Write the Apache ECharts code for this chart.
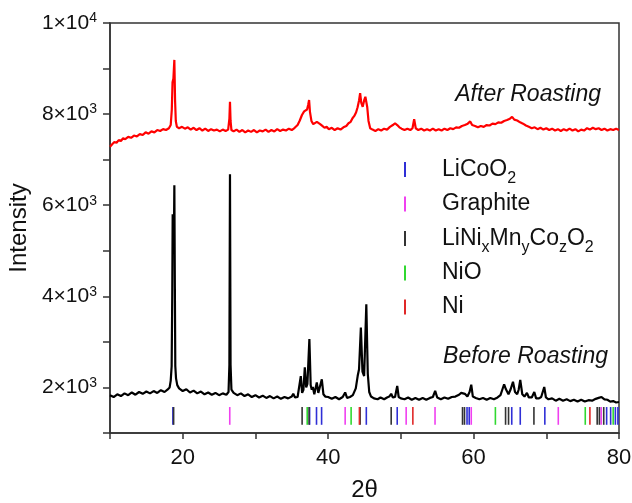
<!DOCTYPE html>
<html>
<head>
<meta charset="utf-8">
<script src="https://cdn.jsdelivr.net/npm/echarts@6/dist/echarts.min.js"></script>
<style>
  html, body { margin: 0; padding: 0; background: #fff; }
  #chart { width: 632px; height: 503px; }
</style>
</head>
<body>
<div id="chart"></div>
<script>
// XRD pattern before roasting: [2theta, intensity]
const beforeRoasting = [
  [10.0, 1830], [10.5, 1790], [11.0, 1850], [11.5, 1810], [12.0, 1870], [12.5, 1830], [13.0, 1890], [13.5, 1840],
  [14.0, 1900], [14.5, 1860], [15.0, 1910], [15.5, 1870], [16.0, 1920], [16.5, 1880], [17.0, 1940], [17.5, 1900],
  [17.9, 1950], [18.2, 2000], [18.35, 2150], [18.48, 2470], [18.56, 4000], [18.62, 5800], [18.7, 5300], [18.78, 5100],
  [18.85, 6440], [18.92, 4200], [18.98, 2470], [19.08, 2200], [19.25, 2050], [19.5, 1980], [20.0, 1920], [20.5, 1960],
  [21.0, 1890], [21.5, 1930], [22.0, 1870], [22.5, 1910], [23.0, 1850], [23.5, 1890], [24.0, 1840], [24.5, 1880],
  [25.0, 1830], [25.5, 1870], [26.0, 1840], [26.3, 1900], [26.42, 2500], [26.5, 6680], [26.58, 2500], [26.7, 1950],
  [27.0, 1880], [27.5, 1830], [28.0, 1870], [28.5, 1810], [29.0, 1850], [29.5, 1790], [30.0, 1830], [30.5, 1780],
  [31.0, 1820], [31.5, 1770], [32.0, 1810], [32.5, 1760], [33.0, 1800], [33.5, 1750], [34.0, 1790], [34.5, 1760],
  [35.0, 1800], [35.2, 1860], [35.45, 1780], [35.8, 1790], [36.05, 1800], [36.24, 2250], [36.42, 1880], [36.6, 1950],
  [36.79, 2440], [36.98, 2000], [37.15, 2080], [37.42, 3060], [37.6, 2050], [37.75, 1950], [37.89, 2010], [38.1, 1850],
  [38.25, 1880], [38.44, 2110], [38.65, 1880], [38.85, 1870], [39.13, 2180], [39.35, 1850], [39.6, 1800], [40.0, 1790],
  [40.5, 1750], [41.0, 1790], [41.5, 1740], [42.0, 1790], [42.34, 1890], [42.6, 1770], [43.0, 1790], [43.4, 1830],
  [43.8, 1980], [44.06, 2250], [44.25, 2400], [44.5, 3316], [44.72, 2350], [44.95, 2250], [45.25, 3827], [45.45, 2300],
  [45.65, 1900], [45.9, 1800], [46.3, 1760], [46.8, 1740], [47.2, 1780], [47.7, 1740], [48.1, 1780], [48.4, 1800],
  [48.67, 1860], [48.9, 1780], [49.2, 1790], [49.5, 2035], [49.7, 1790], [50.0, 1760], [50.5, 1740], [51.0, 1780],
  [51.5, 1730], [52.0, 1770], [52.5, 1730], [53.0, 1770], [53.5, 1730], [54.0, 1770], [54.4, 1790], [54.72, 1925],
  [55.0, 1780], [55.5, 1740], [56.0, 1780], [56.5, 1750], [57.0, 1790], [57.5, 1800], [58.0, 1840], [58.3, 1880],
  [58.5, 1915], [58.8, 1860], [59.15, 1800], [59.45, 1900], [59.68, 2060], [59.9, 1800], [60.3, 1770], [60.8, 1740],
  [61.3, 1770], [61.8, 1730], [62.3, 1770], [62.8, 1740], [63.3, 1780], [63.7, 1830], [63.95, 1950], [64.2, 2070],
  [64.45, 1960], [64.8, 1850], [65.1, 1960], [65.42, 2125], [65.7, 1900], [66.0, 1850], [66.2, 1950], [66.42, 2165],
  [66.7, 1850], [67.0, 1800], [67.34, 1880], [67.6, 1780], [68.0, 1780], [68.35, 1900], [68.6, 1760], [69.0, 1760],
  [69.3, 1790], [69.72, 2010], [69.95, 1780], [70.3, 1740], [70.8, 1760], [71.3, 1710], [71.8, 1750], [72.3, 1710],
  [72.8, 1740], [73.3, 1700], [73.8, 1730], [74.3, 1690], [74.8, 1730], [75.3, 1690], [75.8, 1720], [76.3, 1710],
  [76.8, 1750], [77.2, 1770], [77.6, 1790], [78.0, 1740], [78.4, 1730], [78.8, 1690], [79.2, 1700], [79.6, 1670],
  [80.0, 1680]
];

// XRD pattern after roasting
const afterRoasting = [
  [10.0, 7285], [10.3, 7340], [10.6, 7390], [10.9, 7370], [11.2, 7430], [11.5, 7410], [11.8, 7470], [12.1, 7450],
  [12.5, 7500], [12.9, 7480], [13.3, 7530], [13.7, 7510], [14.1, 7560], [14.5, 7540], [14.9, 7600], [15.3, 7570],
  [15.7, 7620], [16.1, 7600], [16.5, 7650], [16.9, 7630], [17.3, 7670], [17.7, 7650], [18.1, 7690], [18.35, 7760],
  [18.5, 8100], [18.6, 8700], [18.72, 8780], [18.85, 9190], [18.95, 8300], [19.05, 7850], [19.2, 7720], [19.5, 7690],
  [19.9, 7720], [20.3, 7680], [20.7, 7710], [21.1, 7660], [21.5, 7700], [21.9, 7650], [22.3, 7690], [22.7, 7640],
  [23.1, 7680], [23.5, 7630], [23.9, 7670], [24.3, 7640], [24.7, 7660], [25.1, 7620], [25.5, 7660], [25.9, 7630],
  [26.25, 7660], [26.42, 7900], [26.5, 8270], [26.58, 7850], [26.7, 7650], [27.0, 7620], [27.4, 7660], [27.8, 7610],
  [28.2, 7650], [28.6, 7600], [29.0, 7640], [29.4, 7610], [29.8, 7650], [30.2, 7600], [30.6, 7640], [31.0, 7620],
  [31.4, 7660], [31.8, 7610], [32.2, 7650], [32.6, 7620], [33.0, 7670], [33.4, 7630], [33.8, 7660], [34.2, 7640],
  [34.6, 7680], [35.0, 7650], [35.4, 7700], [35.8, 7760], [36.1, 7860], [36.4, 7980], [36.7, 8060], [36.9, 8040],
  [37.1, 8100], [37.25, 8200], [37.38, 8310], [37.5, 8050], [37.7, 7850], [37.95, 7780], [38.2, 7790], [38.45, 7830],
  [38.67, 7840], [38.9, 7780], [39.2, 7740], [39.5, 7700], [39.8, 7720], [40.1, 7670], [40.5, 7700], [40.9, 7650],
  [41.3, 7690], [41.7, 7660], [42.1, 7710], [42.5, 7740], [42.8, 7800], [43.1, 7830], [43.35, 7910], [43.6, 7960],
  [43.85, 8040], [44.05, 8150], [44.25, 8300], [44.4, 8460], [44.55, 8250], [44.75, 8160], [44.95, 8300], [45.12, 8380],
  [45.23, 8420], [45.38, 8150], [45.55, 7850], [45.78, 7690], [46.1, 7660], [46.5, 7630], [46.9, 7670], [47.3, 7640],
  [47.7, 7680], [48.1, 7660], [48.5, 7720], [48.9, 7760], [49.2, 7800], [49.5, 7760], [49.8, 7710], [50.1, 7680],
  [50.5, 7650], [50.9, 7680], [51.3, 7650], [51.6, 7690], [51.83, 7890], [52.05, 7690], [52.4, 7650], [52.8, 7680],
  [53.2, 7640], [53.6, 7670], [54.0, 7640], [54.4, 7680], [54.8, 7640], [55.2, 7670], [55.6, 7640], [56.0, 7680],
  [56.4, 7650], [56.8, 7690], [57.2, 7670], [57.6, 7710], [58.0, 7700], [58.4, 7740], [58.8, 7760], [59.2, 7790],
  [59.54, 7840], [59.8, 7760], [60.2, 7740], [60.6, 7710], [61.0, 7740], [61.4, 7720], [61.8, 7760], [62.2, 7750],
  [62.6, 7790], [63.0, 7780], [63.4, 7820], [63.8, 7810], [64.2, 7850], [64.6, 7870], [65.0, 7900], [65.3, 7940],
  [65.6, 7880], [66.0, 7860], [66.4, 7820], [66.8, 7790], [67.2, 7750], [67.6, 7720], [68.0, 7690], [68.4, 7710],
  [68.8, 7670], [69.2, 7700], [69.6, 7660], [70.0, 7690], [70.4, 7650], [70.8, 7680], [71.2, 7640], [71.6, 7670],
  [72.0, 7630], [72.4, 7670], [72.8, 7640], [73.2, 7680], [73.6, 7640], [74.0, 7670], [74.4, 7620], [74.8, 7660],
  [75.2, 7640], [75.6, 7690], [76.0, 7660], [76.4, 7700], [76.8, 7670], [77.2, 7690], [77.6, 7650], [78.0, 7680],
  [78.4, 7640], [78.8, 7670], [79.2, 7650], [79.6, 7680], [80.0, 7650]
];

// reference peak positions (2theta) for each phase
const licoo2Peaks = [18.65, 37.45, 38.4, 39.1, 45.25, 49.5, 59.1, 59.4, 65.25, 66.42, 69.8, 78.3, 78.85, 79.5, 79.85];
const graphitePeaks = [26.47, 42.34, 50.73, 54.7, 59.68, 71.65, 77.55];
const nmcPeaks = [18.75, 36.42, 37.38, 44.4, 48.67, 58.48, 58.75, 64.4, 64.81, 68.3, 77.0, 77.3, 77.9];
const nioPeaks = [37.12, 43.16, 63.0, 75.36, 79.2];
const niPeaks = [44.3, 51.65, 76.0];

const phaseNames = ['LiCoO2', 'Graphite', 'LiNixMnyCozO2', 'NiO', 'Ni'];
const phaseColors = ['#2f2fd6', '#f040f0', '#333333', '#30d830', '#e02828'];
const phasePeaks = [licoo2Peaks, graphitePeaks, nmcPeaks, nioPeaks, niPeaks];

// vertical extent of the reference sticks (intensity units)
const stickLow = 1180;
const stickHigh = 1570;

const FONT = '"Liberation Sans", Arial, sans-serif';

const legendLabels = {
  'LiCoO2': 'LiCoO{sub|2}',
  'Graphite': 'Graphite',
  'LiNixMnyCozO2': 'LiNi{sub|x}Mn{sub|y}Co{sub|z}O{sub|2}',
  'NiO': 'NiO',
  'Ni': 'Ni'
};

const chart = echarts.init(document.getElementById('chart'));

const stickSeries = phaseNames.map((name, i) => ({
  name,
  type: 'custom',
  color: phaseColors[i],
  silent: true,
  encode: { x: 0, y: 1 },
  data: phasePeaks[i].map((t) => [t, stickLow]),
  renderItem: (params, api) => {
    const lo = api.coord([api.value(0), stickLow]);
    const hi = api.coord([api.value(0), stickHigh]);
    return {
      type: 'line',
      shape: { x1: lo[0], y1: lo[1], x2: hi[0], y2: hi[1] },
      style: { stroke: phaseColors[i], lineWidth: 1.6 }
    };
  }
}));

chart.setOption({
  animation: false,
  textStyle: { fontFamily: FONT },
  grid: {
    left: 110, right: 13, top: 23, bottom: 70,
    outerBoundsMode: 'none',
    show: true, borderColor: '#333', borderWidth: 1.5
  },
  xAxis: {
    type: 'value',
    min: 10, max: 80, interval: 10,
    name: '2θ',
    nameLocation: 'middle',
    nameGap: 45,
    nameTextStyle: { fontSize: 24, color: '#111', fontFamily: FONT },
    axisLine: { lineStyle: { color: '#333', width: 1.5 } },
    axisTick: { show: true, length: 6, lineStyle: { color: '#333', width: 1.5 } },
    axisLabel: {
      fontSize: 22, color: '#111', margin: 14,
      formatter: (v) => (v % 20 === 0 ? String(v) : '')
    },
    splitLine: { show: false }
  },
  yAxis: {
    type: 'value',
    min: 1000, max: 10000, interval: 1000,
    name: 'Intensity',
    nameLocation: 'middle',
    nameGap: 73,
    nameTextStyle: { fontSize: 24, color: '#111', fontFamily: FONT },
    axisLine: { show: true, lineStyle: { color: '#333', width: 1.5 } },
    axisTick: { show: true, length: 7, lineStyle: { color: '#333', width: 1.5 } },
    axisLabel: {
      fontSize: 21, color: '#111', margin: 13, lineHeight: 22,
      formatter: (v) => {
        if (v === 10000) return '1×10{sup|4}';
        if (v % 2000 !== 0) return '';
        return (v / 1000) + '×10{sup|3}';
      },
      rich: {
        sup: { fontSize: 14, lineHeight: 14, padding: [0, 0, 9, 0], color: '#111' }
      }
    },
    splitLine: { show: false }
  },
  legend: {
    orient: 'vertical',
    left: 404, top: 152,
    padding: 0,
    itemGap: 0,
    itemWidth: 2, itemHeight: 15,
    selectedMode: false,
    data: phaseNames.map((n, i) => ({ name: n, icon: 'rect', itemStyle: { color: phaseColors[i] } })),
    formatter: (name) => legendLabels[name],
    textStyle: {
      fontSize: 23, color: '#111', lineHeight: 34, padding: [0, 0, 0, 31], fontFamily: FONT,
      rich: {
        sub: { fontSize: 16, lineHeight: 16, padding: [19, 0, 0, 0], color: '#111' }
      }
    }
  },
  graphic: [
    {
      type: 'text', right: 31, top: 83,
      style: { text: 'After Roasting', font: 'italic 23px ' + FONT, fill: '#111' }
    },
    {
      type: 'text', right: 24, top: 345,
      style: { text: 'Before Roasting', font: 'italic 23px ' + FONT, fill: '#111' }
    }
  ],
  series: [
    {
      name: 'After Roasting',
      type: 'line',
      data: afterRoasting,
      showSymbol: false,
      silent: true,
      lineStyle: { color: '#ff0000', width: 2.2 },
      z: 3
    },
    {
      name: 'Before Roasting',
      type: 'line',
      data: beforeRoasting,
      showSymbol: false,
      silent: true,
      lineStyle: { color: '#000', width: 2.2 },
      z: 3
    }
  ].concat(stickSeries)
});

window.addEventListener('resize', chart.resize);
</script>
</body>
</html>
